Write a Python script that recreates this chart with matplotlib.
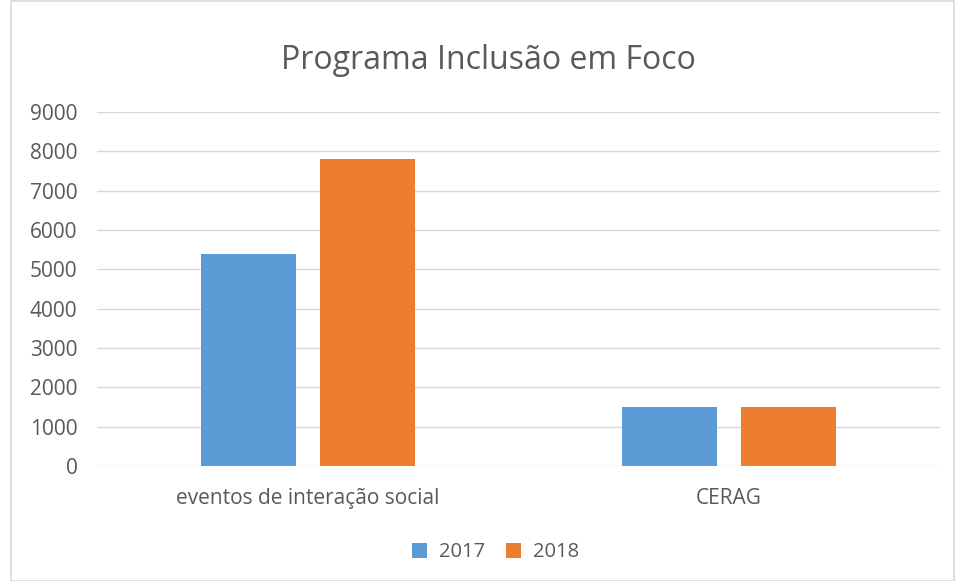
import numpy as np
import matplotlib
matplotlib.use("Agg")
import matplotlib.pyplot as plt
from matplotlib.patches import Rectangle

# dados do gráfico
categorias = ["eventos de interação social", "CERAG"]
valores_2017 = [5400, 1500]
valores_2018 = [7800, 1500]
series = ["2017", "2018"]
yticks = np.arange(0, 9001, 1000)

plt.rcParams["font.family"] = ["Open Sans", "DejaVu Sans"]
cor_texto = "#595959"

fig = plt.figure(figsize=(9.56, 5.81), dpi=100)
ax = fig.add_axes([0.1015, 0.198, 0.8815, 0.609])

x = np.arange(len(categorias))
largura = 0.225
desloc = 0.141
ax.bar(x - desloc, valores_2017, largura, color="#5B9BD5", label=series[0], zorder=3)
ax.bar(x + desloc, valores_2018, largura, color="#ED7D31", label=series[1], zorder=3)

ax.set_xlim(-0.5, 1.5)
ax.set_ylim(0, 9000)
ax.set_yticks(yticks)
ax.set_xticks(x)
ax.set_xticklabels(categorias)
ax.tick_params(axis="both", length=0, colors=cor_texto, labelsize=15)
ax.tick_params(axis="y", pad=14)
ax.tick_params(axis="x", pad=16)
ax.grid(axis="y", color="#D9D9D9", linewidth=1, zorder=0)
for s in ax.spines.values():
    s.set_visible(False)

fig.suptitle("Programa Inclusão em Foco", x=0.511, y=0.925, fontsize=23, color=cor_texto)

ax.legend(loc="upper center", bbox_to_anchor=(0.473, -0.165), ncol=2, frameon=False,
          fontsize=14.5, labelcolor=cor_texto, handlelength=0.75, handleheight=0.75,
          handletextpad=0.6, columnspacing=1.0)

# moldura do gráfico
fig.patches.append(Rectangle((0.011, 0.0), 0.987, 0.998, transform=fig.transFigure,
                             fill=False, edgecolor="#D9D9D9", linewidth=1.2))

fig.savefig("out.png", dpi=100)
